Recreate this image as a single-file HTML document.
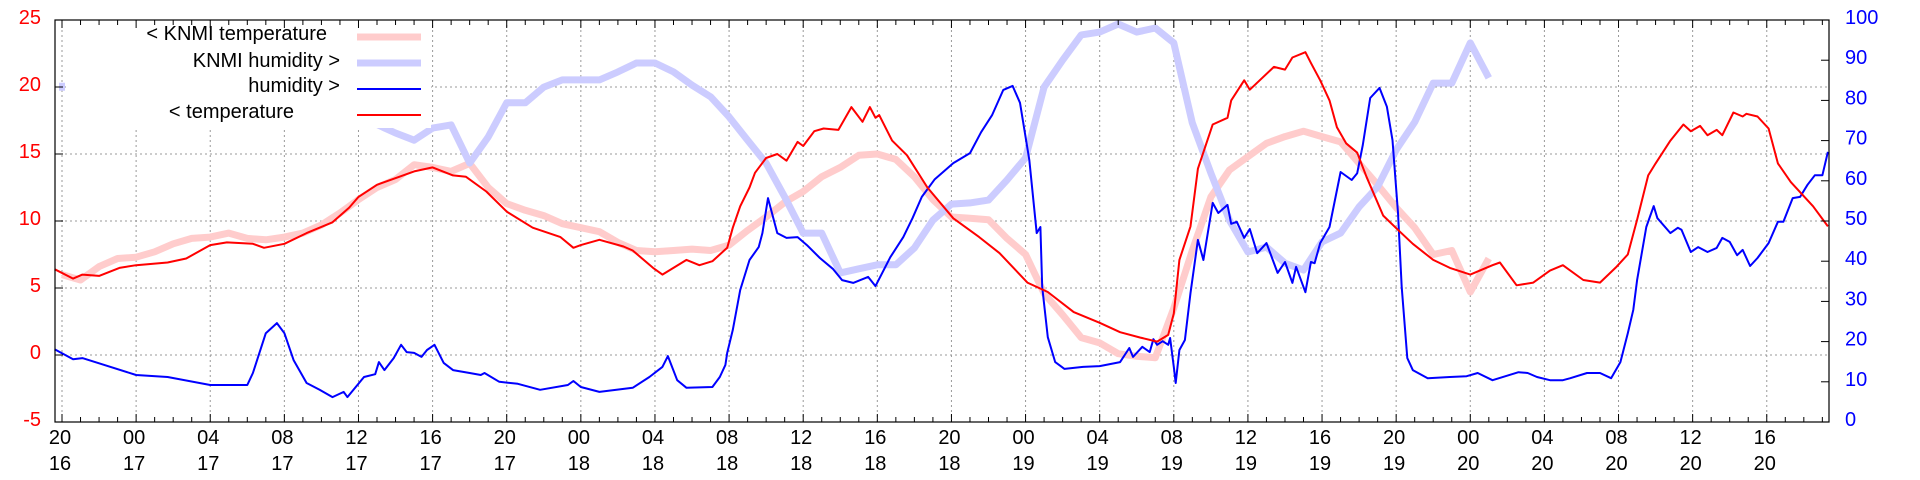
<!DOCTYPE html>
<html><head><meta charset="utf-8">
<style>
html,body{margin:0;padding:0;background:#fff;}
svg{display:block;font-family:"Liberation Sans",sans-serif;}
</style></head>
<body>
<svg id="chart" width="1920" height="480" viewBox="0 0 1920 480" xmlns="http://www.w3.org/2000/svg">
<rect x="0" y="0" width="1920" height="480" fill="#fff"/>
<g id="grid"></g>
<g id="series"></g>
<g id="legend"></g>
<g id="axes"></g>
</svg>
<script>
// ---- data ----
const tempHours = [-0.4,0.6,1.1,2,3.1,4,5.7,6.7,8,8.9,10.3,10.9,12,13.2,14.6,15.5,16,17,18.2,19,20,21.1,21.8,22.9,24,25.4,26.9,27.6,28,29,30.3,30.8,31.9,32.4,33.7,34.4,35.1,35.9,36.2,36.6,37.1,37.4,38,38.6,39.1,39.7,40,40.6,41.1,41.9,42.6,43.2,43.6,43.9,44.1,44.8,45.6,46.7,48.1,49.5,50.6,52.1,53.2,54.6,56,57.1,58.2,59.1,59.7,60,60.3,60.9,61.3,62.1,62.9,63.1,63.8,64.1,65.4,66,66.4,67.1,67.4,67.9,68.4,68.8,69.3,69.9,70.4,71.3,72.2,72.9,74,74.9,76,77.2,77.6,78.5,79.4,80.3,81,82.1,83,83.9,84.5,85,85.6,86,86.8,87.5,87.9,88.4,88.8,89.3,89.6,90.2,90.7,90.9,91.5,92.1,92.6,93.3,94.5,95.3];
const tempValues = [6.4,5.7,6.0,5.9,6.5,6.7,6.9,7.2,8.2,8.4,8.3,8.0,8.3,9.1,9.9,11.0,11.8,12.7,13.3,13.7,14.0,13.4,13.3,12.2,10.7,9.5,8.8,8.0,8.2,8.6,8.1,7.8,6.5,6.0,7.1,6.7,7.0,8.0,9.5,11.1,12.5,13.6,14.7,15.0,14.5,15.9,15.6,16.7,16.9,16.8,18.5,17.4,18.5,17.7,17.9,16.0,14.9,12.5,10.2,8.8,7.6,5.4,4.7,3.2,2.4,1.7,1.3,1.0,1.5,3.1,7.1,9.6,13.9,17.2,17.7,19.0,20.5,19.8,21.5,21.3,22.2,22.6,21.8,20.5,19.0,17.0,15.8,15.1,13.3,10.4,9.2,8.3,7.1,6.5,6.0,6.7,6.9,5.2,5.4,6.3,6.7,5.6,5.4,6.6,7.5,10.1,13.4,14.3,16.0,17.2,16.7,17.1,16.4,16.8,16.4,18.1,17.8,18.0,17.8,16.9,14.3,12.9,11.1,9.6];
const humHours = [-0.4,0.6,1.1,2,4,5.7,8,10,10.3,11,11.6,12,12.5,13.2,13.9,14.6,15.2,15.4,16.3,16.9,17.1,17.4,17.9,18.3,18.6,19,19.4,19.7,20.1,20.6,21.1,22,22.6,22.8,23.6,24.6,25.8,27.3,27.6,28,29,30.8,31.7,32.4,32.7,33.2,33.7,35.1,35.5,35.8,35.9,36.2,36.6,37.1,37.6,37.8,38.1,38.6,39.1,39.7,40.2,40.9,41.6,42.1,42.7,43.5,43.9,44.7,45.4,45.9,46.4,47.1,48.1,49,49.6,50.2,50.8,51.3,51.7,52.2,52.6,52.8,52.9,53.2,53.6,54.1,55.1,56,57.1,57.6,57.8,58.3,58.7,58.9,59.1,59.4,59.7,59.8,60,60.1,60.3,60.6,60.9,61.3,61.6,62.1,62.4,62.9,63.1,63.4,63.8,64.1,64.5,65,65.6,66,66.4,66.6,67.1,67.4,67.6,67.9,68.4,69,69.6,69.9,70.2,70.6,71.1,71.5,71.8,72.1,72.3,72.6,72.9,73.7,74.9,75.8,76.4,77.2,78.6,79.1,79.6,80.3,81,81.4,82.3,83,83.6,84.1,84.5,84.8,85,85.5,85.9,86.1,86.8,87.2,87.4,87.9,88.3,88.8,89.3,89.6,90,90.4,90.7,91.1,91.5,92.1,92.6,92.9,93.4,93.8,94.2,94.6,95,95.3];
const humValues = [18.1,15.6,15.9,14.6,11.7,11.2,9.2,9.2,12.2,22.1,24.6,22.1,15.4,9.7,8.0,6.2,7.5,6.2,11.2,11.9,14.9,12.9,15.9,19.2,17.4,17.2,16.2,17.9,19.2,14.7,12.9,12.2,11.7,12.2,10.0,9.5,8.0,9.2,10.2,8.7,7.5,8.5,11.2,13.7,16.4,10.4,8.5,8.7,11.2,14.2,17.2,22.9,32.8,40.3,43.5,47.0,55.7,47.0,45.8,46.0,44.0,40.8,38.1,35.3,34.6,36.1,33.8,41.0,46.0,50.7,56.0,60.4,64.4,66.9,72.1,76.4,82.6,83.6,79.4,65.2,47.0,48.5,33.6,21.1,14.9,13.2,13.7,13.9,14.9,18.4,16.2,18.7,17.4,20.6,19.2,20.1,19.2,20.9,13.7,9.7,17.9,20.4,32.1,45.3,40.3,54.5,52.0,54.0,49.3,49.8,45.8,48.0,42.0,44.5,37.1,39.8,34.6,38.6,32.3,39.8,39.5,44.5,48.5,62.2,60.2,61.9,68.9,80.6,83.1,78.4,70.1,52.0,33.6,15.9,12.9,10.9,11.2,11.4,12.2,10.4,12.4,12.2,11.2,10.4,10.4,10.9,12.2,12.2,10.9,14.9,22.1,27.9,35.3,48.5,53.7,50.7,47.0,48.3,47.8,42.3,43.5,42.3,43.3,45.8,44.8,41.5,42.8,38.8,40.8,44.5,49.8,49.8,55.7,56.0,59.0,61.4,61.4,67.2];
const knmiTempValues = [6.0,5.6,6.6,7.2,7.3,7.7,8.3,8.7,8.8,9.1,8.7,8.6,8.8,9.1,9.7,10.6,11.6,12.5,13.1,14.2,14.0,13.7,14.3,12.5,11.3,10.8,10.4,9.8,9.5,9.2,8.4,7.8,7.7,7.8,7.9,7.8,8.2,9.3,10.3,11.4,12.2,13.3,14.0,14.9,15.0,14.6,13.3,11.6,10.3,10.2,10.1,8.7,7.5,4.6,3.0,1.3,0.9,0.1,-0.1,-0.2,3.5,7.8,11.8,13.8,14.8,15.8,16.3,16.7,16.3,15.9,14.3,12.7,11.0,9.5,7.5,7.8,4.7,7.2];
const knmiHumStart = 17;
const knmiHumValues = [74,71.9,70.1,73.1,73.9,64.4,70.9,79.4,79.4,83.3,85.1,85.1,85.1,87.1,89.3,89.3,87.1,83.8,80.9,75.9,70.1,64.4,56.0,47.0,47.0,37.1,38.1,39.1,39.1,43.3,50.2,54.2,54.5,55.2,60.2,65.7,83.3,90.0,96.3,97.0,99.0,97.0,98.0,94.3,74.4,61.9,50.2,42.3,43.5,39.5,37.8,44.8,47.0,53.5,58.5,67.7,74.6,84.3,84.3,94.3,85.6];
const knmiHumFirst = 83.4;
const tempTicks = [25,20,15,10,5,0,-5];
const humTicks = [100,90,80,70,60,50,40,30,20,10,0];
const hourLabels = ["20","00","04","08","12","16","20","00","04","08","12","16","20","00","04","08","12","16","20","00","04","08","12","16"];
const dayLabels = ["16","17","17","17","17","17","17","18","18","18","18","18","18","19","19","19","19","19","19","20","20","20","20","20"];

// ---- scales ----
const L=55,R=1829,T=20,B=422, X0=62, PXH=18.53;
const xs=h=>X0+h*PXH;
const yt=v=>T+(25-v)*(B-T)/30;
const yh=v=>B-v*(B-T)/100;
const NS="http://www.w3.org/2000/svg";
function mk(tag,parent,attrs){const e=document.createElementNS(NS,tag);for(const k in attrs)e.setAttribute(k,attrs[k]);parent.appendChild(e);return e;}

const grid=document.getElementById('grid'),series=document.getElementById('series'),legend=document.getElementById('legend'),axes=document.getElementById('axes');

// grid
[20,15,10,5,0].forEach(v=>{const l=mk('line',grid,{x1:L,x2:R,y1:yt(v),y2:yt(v),stroke:'#999',"stroke-width":1,"stroke-dasharray":"2,3"});

});
hourLabels.forEach((lab,i)=>{const x=xs(i*4);const l=mk('line',grid,{x1:x,x2:x,y1:T,y2:B,stroke:'#999',"stroke-width":1,"stroke-dasharray":"2,3"});

});

function path(xsArr,ysArr,color,w,name){let d='';xsArr.forEach((x,i)=>{d+=(i?'L':'M')+x.toFixed(1)+','+ysArr[i].toFixed(1);});
const p=mk('path',series,{d:d,fill:'none',stroke:color,"stroke-width":w,"stroke-linejoin":"round"});

return p;}

path(knmiTempValues.map((v,i)=>xs(i)),knmiTempValues.map(v=>yt(v)),'#ffcccc',7,'knmi-temperature-line');
path(knmiHumValues.map((v,i)=>xs(knmiHumStart+i)),knmiHumValues.map(v=>yh(v)),'#ccccff',7,'knmi-humidity-line');
const dot=mk('rect',series,{x:xs(0)-3,y:yh(knmiHumFirst)-4,width:6,height:8,fill:'#ccccff'});


path(humHours.map(xs),humValues.map(yh),'#0000ff',2,'humidity-line');
path(tempHours.map(xs),tempValues.map(yt),'#ff0000',2,'temperature-line');

// legend
const lb=mk('rect',legend,{x:66,y:T+1,width:365,height:107,fill:'#fff'});


const legTexts=["< KNMI temperature","KNMI humidity >","humidity >","< temperature"];
const legEnds=[327,340,340,294];
const legY=[33,60,85,111];
const legCol=['#ffcccc','#ccccff','#0000ff','#ff0000'];
const legW=[7,7,2,2];
const legLineY=[37,63,89,115];
legTexts.forEach((t,i)=>{const tx=mk('text',legend,{x:legEnds[i],y:legY[i]+7,"text-anchor":"end","font-size":20,fill:'#000'});tx.textContent=t;


const ln=mk('line',legend,{x1:357,x2:421,y1:legLineY[i],y2:legLineY[i],stroke:legCol[i],"stroke-width":legW[i]});

});

// axes frame
const fr=mk('rect',axes,{x:L,y:T,width:R-L,height:B-T,fill:'none',stroke:'#000',"stroke-width":1.2});


for(let h=0;h<=95;h++){const x=xs(h);if(x>R)break;const len=(h%4===0)?8:5;
mk('line',axes,{x1:x,x2:x,y1:B,y2:B-len,stroke:'#000',"stroke-width":1});
mk('line',axes,{x1:x,x2:x,y1:T,y2:T+len,stroke:'#000',"stroke-width":1});}
tempTicks.forEach(v=>{const y=yt(v);mk('line',axes,{x1:L,x2:L+8,y1:y,y2:y,stroke:'#000'});
const t=mk('text',axes,{x:41,y:y+4,"text-anchor":"end","font-size":20,fill:'#ff0000'});t.textContent=v;

});
humTicks.forEach(v=>{const y=yh(v);mk('line',axes,{x1:R,x2:R-8,y1:y,y2:y,stroke:'#000'});
const t=mk('text',axes,{x:1845,y:y+4,"text-anchor":"start","font-size":20,fill:'#0000ff'});t.textContent=v;

});
hourLabels.forEach((lab,i)=>{const x=xs(i*4)-2;
const t1=mk('text',axes,{x:x,y:444,"text-anchor":"middle","font-size":20,fill:'#000'});t1.textContent=lab;


const t2=mk('text',axes,{x:x,y:470,"text-anchor":"middle","font-size":20,fill:'#000'});t2.textContent=dayLabels[i];

});
</script>
</body></html>
